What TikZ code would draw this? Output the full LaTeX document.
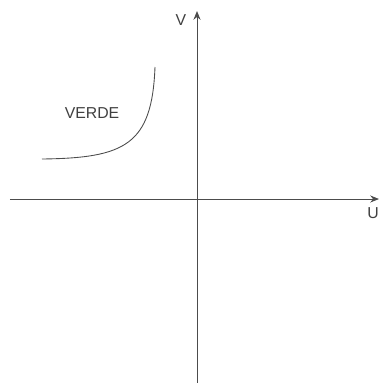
\documentclass[tikz,border=0pt]{standalone}
\usepackage{fontspec}
\setmainfont{Liberation Sans}
\usepackage{tikz}
\usetikzlibrary{arrows.meta}

\begin{document}
\begin{tikzpicture}[x=0.02cm,y=-0.02cm,axis/.style={draw=black!70,line width=0.5pt,-{Stealth[length=5pt,width=4pt]}},lbl/.style={font=\fontsize{9}{10}\selectfont,text=black!75,inner sep=0pt}]
       \useasboundingbox (0,0) rectangle (381,383);
       \coordinate (ub) at (197,383);
       \coordinate (ut) at (197,11);
       \coordinate (ul) at (10,199);
       \coordinate (ur) at (379,199);

       \draw[axis] (ub) -- (ut);
       \draw[axis] (ul) -- (ur);

       \node[lbl] (v) at (181,20) {V};
       \node[lbl] (u) at (373,213) {U};
       \node[lbl] (verde) at (92,113) {VERDE};

       \coordinate (c0) at (42,159);
       \coordinate (c1) at (155,67);
       \draw[black!70,line width=0.5pt] (c0) .. controls (125,158) and (152,145) .. (c1);
    \end{tikzpicture}
\end{document}
